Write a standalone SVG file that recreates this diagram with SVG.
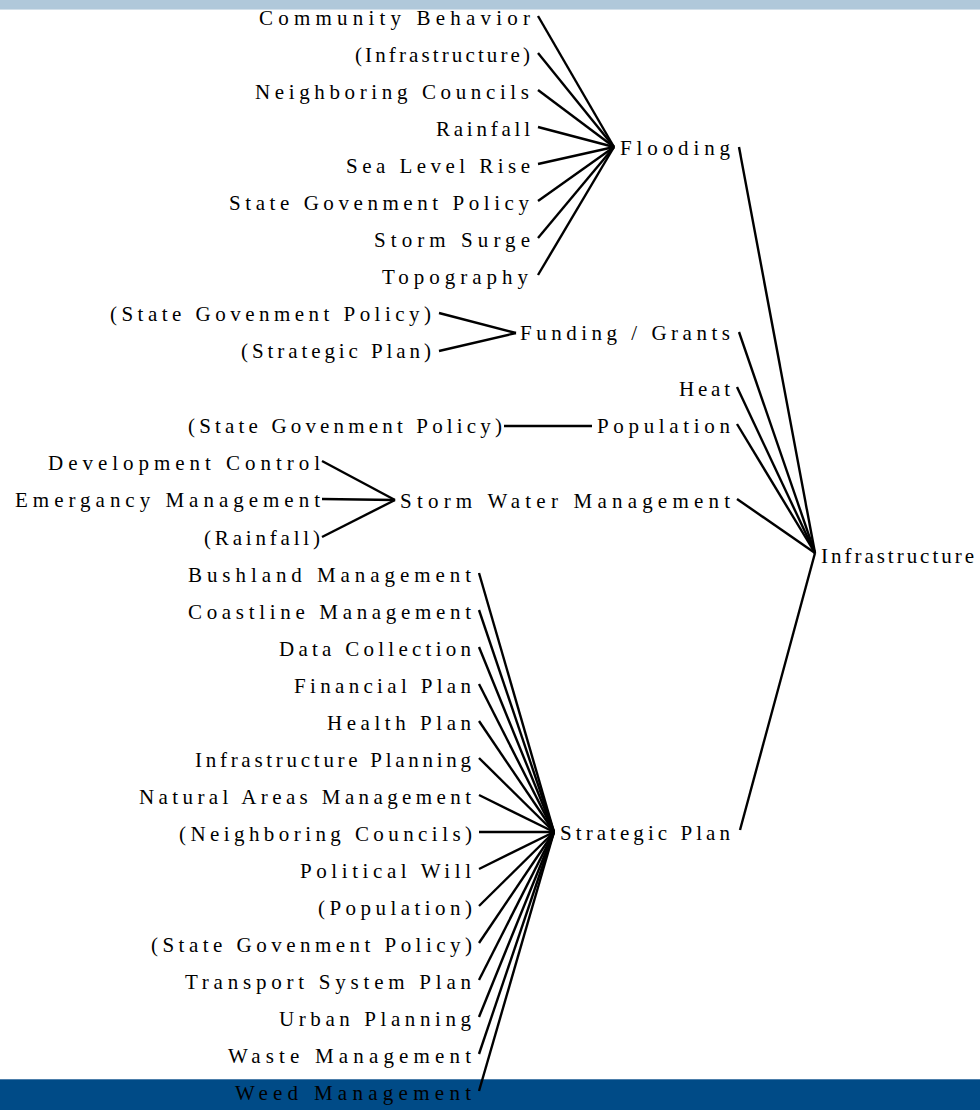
<svg xmlns="http://www.w3.org/2000/svg" width="980" height="1110" viewBox="0 0 980 1110">
<style>
text{font-family:"Liberation Serif","Times New Roman","DejaVu Serif",serif;font-size:21px;fill:#000}
.c line{stroke:#000;stroke-width:2.4;stroke-linecap:butt}
</style>
<rect x="0" y="0" width="980" height="1110" fill="#fff"/>
<rect x="0" y="0" width="980" height="9" fill="#b0c8da"/>
<rect x="0" y="9" width="980" height="1" fill="#d3e0ea"/>
<rect x="0" y="1079" width="980" height="31" fill="#004b87"/>
<rect x="0" y="1079" width="980" height="1" fill="#4d7fab"/>
<g class="c" id="connectors">
<line x1="538" y1="16" x2="614" y2="147"/>
<line x1="538" y1="53" x2="614" y2="147"/>
<line x1="538" y1="90" x2="614" y2="147"/>
<line x1="538" y1="127" x2="614" y2="147"/>
<line x1="538" y1="164" x2="614" y2="147"/>
<line x1="538" y1="201" x2="614" y2="147"/>
<line x1="538" y1="238" x2="614" y2="147"/>
<line x1="538" y1="275" x2="614" y2="147"/>
<line x1="439" y1="313" x2="516" y2="333"/>
<line x1="439" y1="351" x2="516" y2="333"/>
<line x1="504" y1="426" x2="592" y2="426"/>
<line x1="322" y1="461" x2="395" y2="500"/>
<line x1="322" y1="499" x2="395" y2="500"/>
<line x1="322" y1="537" x2="395" y2="500"/>
<line x1="739" y1="147" x2="815" y2="553"/>
<line x1="739" y1="332" x2="815" y2="553"/>
<line x1="737" y1="387" x2="815" y2="553"/>
<line x1="737" y1="424" x2="815" y2="553"/>
<line x1="737" y1="499" x2="815" y2="553"/>
<line x1="740" y1="830" x2="815" y2="553"/>
<line x1="479" y1="573" x2="554" y2="832"/>
<line x1="479" y1="610" x2="554" y2="832"/>
<line x1="479" y1="647" x2="554" y2="832"/>
<line x1="479" y1="684" x2="554" y2="832"/>
<line x1="479" y1="721" x2="554" y2="832"/>
<line x1="479" y1="758" x2="554" y2="832"/>
<line x1="479" y1="795" x2="554" y2="832"/>
<line x1="479" y1="832" x2="554" y2="832"/>
<line x1="479" y1="869" x2="554" y2="832"/>
<line x1="479" y1="906" x2="554" y2="832"/>
<line x1="479" y1="943" x2="554" y2="832"/>
<line x1="479" y1="980" x2="554" y2="832"/>
<line x1="479" y1="1017" x2="554" y2="832"/>
<line x1="479" y1="1054" x2="554" y2="832"/>
<line x1="479" y1="1091" x2="554" y2="832"/>
</g>
<g id="community-behavior"><text x="259" y="25" textLength="271" lengthAdjust="spacing">Community Behavior</text></g>
<g id="infrastructure-ref-1"><text x="355" y="62" textLength="175" lengthAdjust="spacing">(Infrastructure)</text></g>
<g id="neighboring-councils"><text x="255" y="99" textLength="274" lengthAdjust="spacing">Neighboring Councils</text></g>
<g id="rainfall"><text x="436" y="136" textLength="94" lengthAdjust="spacing">Rainfall</text></g>
<g id="sea-level-rise"><text x="346" y="173" textLength="184" lengthAdjust="spacing">Sea Level Rise</text></g>
<g id="state-government-policy"><text x="229" y="210" textLength="300" lengthAdjust="spacing">State Govenment Policy</text></g>
<g id="storm-surge"><text x="374" y="247" textLength="156" lengthAdjust="spacing">Storm Surge</text></g>
<g id="topography"><text x="382" y="284" textLength="146" lengthAdjust="spacing">Topography</text></g>
<g id="flooding"><text x="620" y="155" textLength="110" lengthAdjust="spacing">Flooding</text></g>
<g id="state-policy-ref-1"><text x="110" y="321" textLength="321" lengthAdjust="spacing">(State Govenment Policy)</text></g>
<g id="strategic-plan-ref"><text x="241" y="358" textLength="190" lengthAdjust="spacing">(Strategic Plan)</text></g>
<g id="funding-grants"><text x="520" y="340" textLength="210" lengthAdjust="spacing">Funding / Grants</text></g>
<g id="heat"><text x="679" y="396" textLength="51" lengthAdjust="spacing">Heat</text></g>
<g id="state-policy-ref-2"><text x="188" y="433" textLength="314" lengthAdjust="spacing">(State Govenment Policy)</text></g>
<g id="population"><text x="597" y="433" textLength="133" lengthAdjust="spacing">Population</text></g>
<g id="development-control"><text x="48" y="470" textLength="272" lengthAdjust="spacing">Development Control</text></g>
<g id="emergancy-management"><text x="15" y="507" textLength="305" lengthAdjust="spacing">Emergancy Management</text></g>
<g id="rainfall-ref"><text x="204" y="545" textLength="116" lengthAdjust="spacing">(Rainfall)</text></g>
<g id="storm-water-management"><text x="400" y="508" textLength="330" lengthAdjust="spacing">Storm Water Management</text></g>
<g id="infrastructure"><text x="821" y="563" textLength="153" lengthAdjust="spacing">Infrastructure</text></g>
<g id="bushland-management"><text x="188" y="582" textLength="283" lengthAdjust="spacing">Bushland Management</text></g>
<g id="coastline-management"><text x="188" y="619" textLength="283" lengthAdjust="spacing">Coastline Management</text></g>
<g id="data-collection"><text x="279" y="656" textLength="192" lengthAdjust="spacing">Data Collection</text></g>
<g id="financial-plan"><text x="294" y="693" textLength="177" lengthAdjust="spacing">Financial Plan</text></g>
<g id="health-plan"><text x="327" y="730" textLength="144" lengthAdjust="spacing">Health Plan</text></g>
<g id="infrastructure-planning"><text x="195" y="767" textLength="276" lengthAdjust="spacing">Infrastructure Planning</text></g>
<g id="natural-areas-management"><text x="139" y="804" textLength="332" lengthAdjust="spacing">Natural Areas Management</text></g>
<g id="neighboring-councils-ref"><text x="179" y="841" textLength="293" lengthAdjust="spacing">(Neighboring Councils)</text></g>
<g id="political-will"><text x="300" y="878" textLength="171" lengthAdjust="spacing">Political Will</text></g>
<g id="population-ref"><text x="318" y="915" textLength="154" lengthAdjust="spacing">(Population)</text></g>
<g id="state-policy-ref-3"><text x="151" y="952" textLength="321" lengthAdjust="spacing">(State Govenment Policy)</text></g>
<g id="transport-system-plan"><text x="185" y="989" textLength="286" lengthAdjust="spacing">Transport System Plan</text></g>
<g id="urban-planning"><text x="279" y="1026" textLength="192" lengthAdjust="spacing">Urban Planning</text></g>
<g id="waste-management"><text x="228" y="1063" textLength="243" lengthAdjust="spacing">Waste Management</text></g>
<g id="weed-management"><text x="235" y="1100" textLength="236" lengthAdjust="spacing">Weed Management</text></g>
<g id="strategic-plan"><text x="560" y="840" textLength="170" lengthAdjust="spacing">Strategic Plan</text></g>
</svg>
